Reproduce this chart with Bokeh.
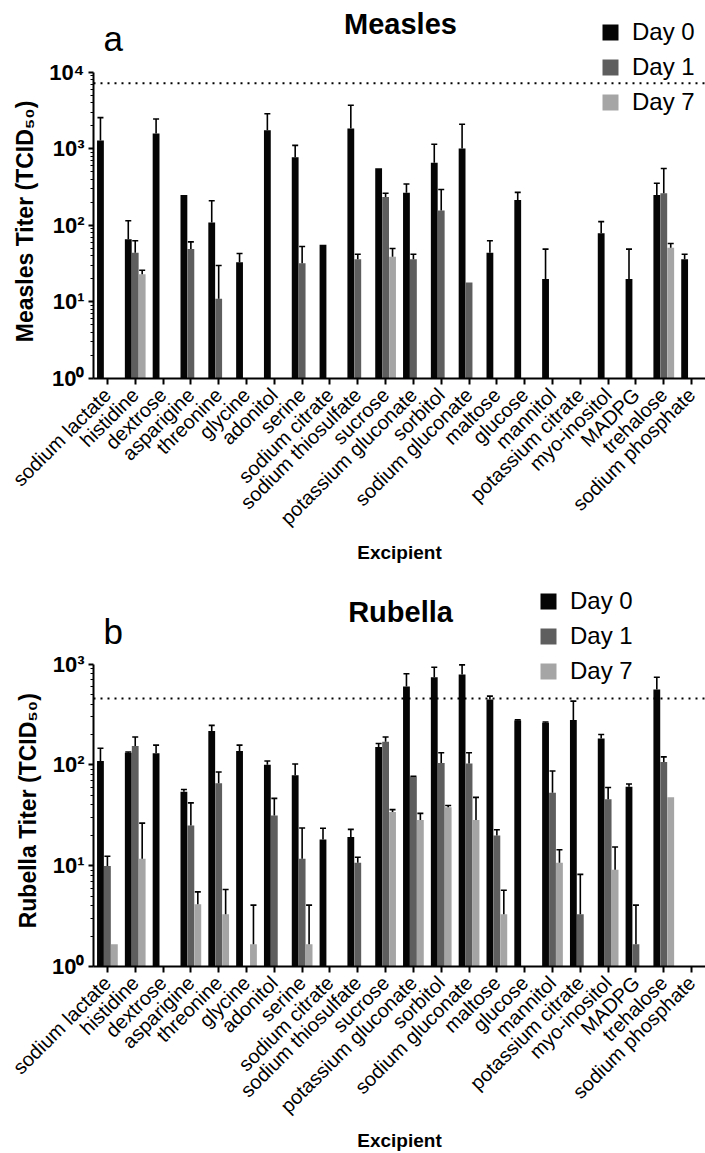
import math
from bokeh.plotting import figure
from bokeh.models import (ColumnDataSource, Range1d, FixedTicker, Span, Whisker,
                          TeeHead, Legend, LegendItem, Label)
from bokeh.transform import dodge
from bokeh.layouts import column
from bokeh.embed import file_html
from bokeh.resources import INLINE

nan = float("nan")

excipients = ["sodium lactate", "histidine", "dextrose", "asparigine", "threonine",
              "glycine", "adonitol", "serine", "sodium citrate", "sodium thiosulfate",
              "sucrose", "potassium gluconate", "sorbitol", "sodium gluconate",
              "maltose", "glucose", "mannitol", "potassium citrate", "myo-inositol",
              "MADPG", "trehalose", "sodium phosphate"]
days = ["Day 0", "Day 1", "Day 7"]

# Measles titers (TCID50); *_hi = top of the error bar
measles_day0 = [1290, 66, 1590, 250, 109, 33, 1750, 775, 56, 1850, 556, 268,
                660, 1010, 44, 215, 20, nan, 79, 20, 250, 36]
measles_day0_hi = [2560, 115, 2450, nan, 210, 43, 2870, 1110, nan, 3720, nan, 347,
                   1150, 2100, 63, 270, 49, nan, 112, 49, 355, 42]
measles_day1 = [nan, 44, nan, 49, 11, nan, nan, 32, nan, 36, 235, 36,
                156, 18, nan, nan, nan, nan, nan, nan, 263, nan]
measles_day1_hi = [nan, 63, nan, 61, 30, nan, nan, 53, nan, 42, 263, 42,
                   295, nan, nan, nan, nan, nan, nan, nan, 555, nan]
measles_day7 = [nan, 23, nan, nan, nan, nan, nan, nan, nan, nan, 39, nan,
                nan, nan, nan, nan, nan, nan, nan, nan, 51, nan]
measles_day7_hi = [nan, 26, nan, nan, nan, nan, nan, nan, nan, nan, 50, nan,
                   nan, nan, nan, nan, nan, nan, nan, nan, 58, nan]
measles_limit = 7200

# Rubella titers (TCID50)
rubella_day0 = [109, 132, 130, 54, 217, 137, 100, 79, 18.2, 19.2, 150, 600,
                740, 785, 445, 275, 262, 278, 182, 60.6, 558, nan]
rubella_day0_hi = [146, 134, 157, 57, 246, 157, 109, 102, 23.5, 22.9, 163, 800,
                   930, 980, 480, 279, 266, 428, 200, 64.5, 740, nan]
rubella_day1 = [9.9, 154, nan, 25, 65.5, nan, 31.4, 11.7, nan, 10.7, 169, 76,
                104, 103, 19.9, nan, 53, 3.3, 45.7, 1.66, 107, nan]
rubella_day1_hi = [12.4, 189, nan, 42, 85, nan, 46.5, 23.6, nan, 12.1, 189, 77,
                   132, 132, 22.7, nan, 87, 8.2, 59.7, 4.06, 120, nan]
rubella_day7 = [1.66, 11.7, nan, 4.15, 3.3, 1.66, nan, 1.66, nan, nan, 34, 28.4,
                38, 28.4, 3.3, nan, 10.7, nan, 9.1, nan, 47.6, nan]
rubella_day7_hi = [nan, 26.4, nan, 5.5, 5.8, 4.06, nan, 4.06, nan, nan, 36, 33,
                   39.5, 47.6, 5.7, nan, 14.4, nan, 15.3, nan, nan, nan]
rubella_limit = 455

colors = ["#050505", "#5e5e5e", "#a5a5a5"]
offsets = [-0.25, 0.0, 0.25]
FONT = "Liberation Sans"
SUP = {0: "\u2070", 1: "\u00b9", 2: "\u00b2", 3: "\u00b3", 4: "\u2074"}
NBSP = "\u00a0"

W = 705
LEFT = 93
BAR_W = 0.245


def make_chart(series, highs, limit, decades, ylabel, label_pad, panel, title,
               height, top_dec_px, frame_h, legend_pos, letter_base, title_base):
    """top_dec_px: pixel row (from figure top) of the highest decade;
    frame_h: frame height (frame starts at the figure top)."""
    dec_px = (frame_h - top_dec_px) / decades
    y_end = 10 ** (decades + top_dec_px / dec_px)

    p = figure(width=W, height=height, x_range=excipients,
               y_range=Range1d(1, y_end), y_axis_type="log",
               output_backend="svg", toolbar_location=None, title=None,
               min_border_left=LEFT, min_border_right=0,
               min_border_top=0, min_border_bottom=height - frame_h)
    p.outline_line_color = None
    p.xgrid.grid_line_color = None
    p.ygrid.grid_line_color = None

    renderers = []
    for vals, his, off, col in zip(series, highs, offsets, colors):
        idx = [i for i, v in enumerate(vals) if not math.isnan(v)]
        src = ColumnDataSource(dict(cat=[excipients[i] for i in idx],
                                    v=[float(vals[i]) for i in idx]))
        r = p.quad(left=dodge("cat", off - BAR_W / 2, range=p.x_range),
                   right=dodge("cat", off + BAR_W / 2, range=p.x_range),
                   top="v", bottom=1, source=src,
                   fill_color=col, line_color=None)
        renderers.append(r)
        eidx = [i for i in idx if not math.isnan(his[i])]
        esrc = ColumnDataSource(dict(cat=[excipients[i] for i in eidx],
                                     v=[float(vals[i]) for i in eidx],
                                     hi=[float(his[i]) for i in eidx]))
        wk = Whisker(source=esrc, base=dodge("cat", off, range=p.x_range),
                     lower="v", upper="hi", dimension="height",
                     line_color="black", line_width=1.6, level="glyph",
                     upper_head=TeeHead(size=6, line_width=1.6, line_color="black"),
                     lower_head=None)
        p.add_layout(wk)

    p.add_layout(Span(location=limit, dimension="width", line_color="black",
                      line_width=2, line_dash="2 5"))

    # axes
    majors = [10 ** k for k in range(decades + 1)]
    minors = [m * 10 ** k for k in range(decades) for m in range(2, 10)]
    p.yaxis.bounds = (1, 10 ** decades)
    p.yaxis.ticker = FixedTicker(ticks=majors, minor_ticks=minors)
    p.yaxis.major_label_overrides = {10 ** k: "10" + SUP[k] for k in range(decades + 1)}
    p.yaxis.major_label_text_font = FONT
    p.yaxis.major_label_text_font_style = "bold"
    p.yaxis.major_label_text_font_size = "22px"
    p.yaxis.major_label_text_color = "black"
    p.yaxis.major_label_standoff = 4
    # trailing no-break spaces centre the visible label on the bounded axis
    p.yaxis.axis_label = ylabel + NBSP * label_pad
    p.yaxis.axis_label_text_font = FONT
    p.yaxis.axis_label_text_font_style = "bold"
    p.yaxis.axis_label_text_font_size = "23px"
    p.yaxis.axis_label_text_color = "black"
    p.yaxis.axis_label_standoff = 8
    for ax in (p.xaxis, p.yaxis):
        ax.axis_line_width = 2
        ax.axis_line_color = "black"
        ax.major_tick_line_width = 2
        ax.major_tick_line_color = "black"
        ax.major_tick_in = 0
    p.yaxis.major_tick_out = 5
    p.yaxis.minor_tick_out = 3
    p.yaxis.minor_tick_in = 0
    p.yaxis.minor_tick_line_width = 1
    p.yaxis.minor_tick_line_color = "black"
    p.xaxis.major_tick_out = 6
    p.xaxis.major_label_orientation = math.pi / 4
    p.xaxis.major_label_text_font = FONT
    p.xaxis.major_label_text_font_size = "20px"
    p.xaxis.major_label_text_color = "black"
    p.xaxis.major_label_standoff = 7
    p.xaxis.axis_label = "Excipient"
    p.xaxis.axis_label_text_font = FONT
    p.xaxis.axis_label_text_font_style = "bold"
    p.xaxis.axis_label_text_font_size = "19px"
    p.xaxis.axis_label_text_color = "black"
    p.xaxis.axis_label_standoff = 2

    # legend (inside the frame, which extends above the top decade)
    items = [LegendItem(label=d, renderers=[r]) for d, r in zip(days, renderers)]
    lg = Legend(items=items, location=legend_pos, orientation="vertical",
                label_text_font=FONT, label_text_font_size="24px",
                label_text_color="black", glyph_width=20, glyph_height=20,
                label_height=30, spacing=5, padding=0, margin=0,
                label_standoff=12, border_line_alpha=0, background_fill_alpha=0)
    p.add_layout(lg)

    band = (W - LEFT) / len(excipients)

    def y_at(px):
        return 10 ** (decades + (top_dec_px - px) / dec_px)

    p.add_layout(Label(x=(103 - LEFT) / band, y=y_at(letter_base), text=panel,
                       text_font=FONT, text_font_size="35px", text_color="black",
                       text_align="left", text_baseline="alphabetic"))
    p.add_layout(Label(x=(400 - LEFT) / band, y=y_at(title_base), text=title,
                       text_font=FONT, text_font_size="29px", text_font_style="bold",
                       text_color="black", text_align="center",
                       text_baseline="alphabetic"))
    return p


TOP_H = 565
p1 = make_chart([measles_day0, measles_day1, measles_day7],
                [measles_day0_hi, measles_day1_hi, measles_day7_hi],
                measles_limit, 4, "Measles Titer (TCID\u2085\u2080)", 10, "a", "Measles",
                TOP_H, 72, 379, (507, 261), 38, 24)
p2 = make_chart([rubella_day0, rubella_day1, rubella_day7],
                [rubella_day0_hi, rubella_day1_hi, rubella_day7_hi],
                rubella_limit, 3, "Rubella Titer (TCID\u2085\u2080)", 14, "b", "Rubella",
                1153 - TOP_H, 99, 403, (445, 280), 66, 47)

layout = column(p1, p2, spacing=0)
open("out.html", "w").write(file_html(layout, INLINE))
